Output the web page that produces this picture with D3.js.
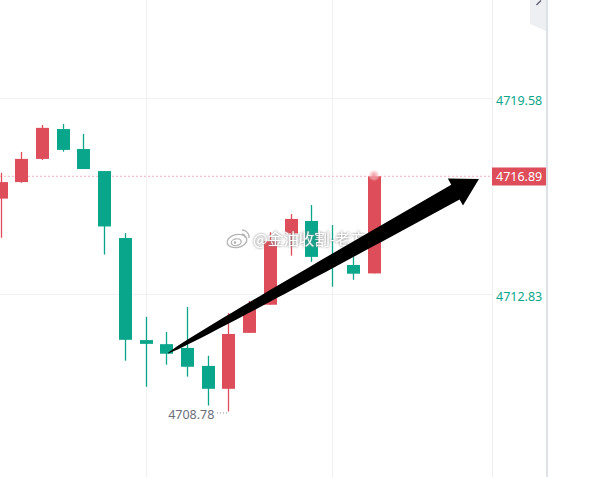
<!DOCTYPE html>
<html>
<head>
<meta charset="utf-8">
<script src="https://cdn.jsdelivr.net/npm/d3@7/dist/d3.min.js"></script>
<style>
  html, body { margin: 0; padding: 0; background: #ffffff; }
  svg { display: block; }
</style>
</head>
<body>
<div id="chart"></div>
<script>
// ---- data ----
const opens  = [4716.12, 4716.69, 4717.49, 4718.52, 4717.83, 4717.07, 4714.76, 4711.24, 4711.10, 4710.97, 4710.35, 4709.56, 4711.49, 4712.46, 4714.92, 4715.35, 4714.04, 4713.83, 4713.54];
const highs  = [4717.01, 4717.73, 4718.66, 4718.69, 4718.35, 4717.07, 4714.93, 4712.04, 4711.52, 4712.38, 4710.70, 4712.17, 4712.59, 4714.96, 4715.59, 4715.90, 4715.21, 4714.11, 4716.89];
const lows   = [4714.77, 4716.67, 4717.45, 4717.74, 4717.14, 4714.19, 4710.53, 4709.63, 4710.39, 4709.98, 4708.98, 4708.78, 4711.49, 4712.46, 4714.15, 4713.94, 4713.08, 4713.32, 4713.54];
const closes = [4716.69, 4717.49, 4718.56, 4717.80, 4717.14, 4715.16, 4711.25, 4711.11, 4710.77, 4710.32, 4709.56, 4711.45, 4712.35, 4714.65, 4715.42, 4714.11, 4713.86, 4713.53, 4716.89];
const priceTicks = ["4719.58", "4712.83"];
const timeGridIdx = [7, 16];
const lastPrice = "4716.89";
const lowLabel = "4708.78";
const lowIndex = 11;
const arrowStart = { i: 8.08, v: 4710.79 };
const arrowEnd   = { i: 23.09, v: 4716.80 };
const watermark = "@金油收割-老方";

const candles = opens.map((o, k) => ({ i: k, o, h: highs[k], l: lows[k], c: closes[k] }));

// ---- layout ----
const W = 593, H = 477;
const plotRight = 492;
const UP = "#dd4d5a", DOWN = "#0aa68c";

const x = d3.scaleLinear().domain([0, 18]).range([0.5, 373.5]);
const y = d3.scaleLinear().domain([4712.83, 4719.58]).range([294, 98.3]);

const svg = d3.select("#chart").append("svg").attr("width", W).attr("height", H);

const defs = svg.append("defs");
const rg = defs.append("radialGradient").attr("id", "glow");
rg.append("stop").attr("offset", "0%").attr("stop-color", "#f08a95").attr("stop-opacity", 0.9);
rg.append("stop").attr("offset", "60%").attr("stop-color", "#f5b7be").attr("stop-opacity", 0.6);
rg.append("stop").attr("offset", "100%").attr("stop-color", "#fbe1e4").attr("stop-opacity", 0);
const cp = defs.append("clipPath").attr("id", "plotclip");
cp.append("rect").attr("x", 0).attr("y", 0).attr("width", plotRight).attr("height", H);
const blur = defs.append("filter").attr("id", "wmglow").attr("x", "-10%").attr("y", "-30%").attr("width", "120%").attr("height", "160%");
blur.append("feGaussianBlur").attr("in", "SourceAlpha").attr("stdDeviation", 1.1).attr("result", "b");
blur.append("feFlood").attr("flood-color", "#8c8c8c").attr("flood-opacity", 0.75);
blur.append("feComposite").attr("in2", "b").attr("operator", "in").attr("result", "s");
const fm = blur.append("feMerge");
fm.append("feMergeNode").attr("in", "s");
fm.append("feMergeNode").attr("in", "s");
fm.append("feMergeNode").attr("in", "SourceGraphic");

// ---- grid ----
const grid = svg.append("g");
grid.selectAll("line.h").data(priceTicks).join("line")
  .attr("x1", 0).attr("x2", plotRight)
  .attr("y1", d => Math.round(y(+d)) + 0.5).attr("y2", d => Math.round(y(+d)) + 0.5)
  .attr("stroke", "#eff1f4").attr("stroke-width", 1);
grid.selectAll("line.v").data(timeGridIdx).join("line")
  .attr("x1", d => Math.round(x(d)) + 0.5).attr("x2", d => Math.round(x(d)) + 0.5)
  .attr("y1", 0).attr("y2", H)
  .attr("stroke", "#f0f1f4").attr("stroke-width", 1.2);

// last price dotted line
svg.append("line")
  .attr("x1", 0).attr("x2", plotRight)
  .attr("y1", y(+lastPrice)).attr("y2", y(+lastPrice))
  .attr("stroke", "#f4b3ba").attr("stroke-width", 1).attr("stroke-dasharray", "2,2");

// ---- candles ----
const cg = svg.append("g").attr("clip-path", "url(#plotclip)");
const bw = 13;
cg.selectAll("line.wick").data(candles).join("line")
  .attr("x1", d => Math.round(x(d.i)) + 0.5).attr("x2", d => Math.round(x(d.i)) + 0.5)
  .attr("y1", d => y(d.h)).attr("y2", d => y(d.l))
  .attr("stroke", d => d.c >= d.o ? UP : DOWN).attr("stroke-width", 1.3);
cg.selectAll("rect.body").data(candles).join("rect")
  .attr("x", d => Math.round(x(d.i)) - 6)
  .attr("width", bw)
  .attr("y", d => y(Math.max(d.o, d.c)))
  .attr("height", d => Math.max(1.5, Math.abs(y(d.o) - y(d.c))))
  .attr("fill", d => d.c >= d.o ? UP : DOWN);

// glow on last candle
const last = candles[candles.length - 1];
svg.append("circle")
  .attr("cx", x(last.i) + 0.5).attr("cy", y(last.c) - 1)
  .attr("r", 6).attr("fill", "url(#glow)");

// low label
svg.append("text")
  .attr("x", x(lowIndex) - 14).attr("y", y(+lowLabel) + 8)
  .attr("text-anchor", "end")
  .attr("font-family", "'Noto Sans', 'Open Sans', sans-serif")
  .attr("font-size", 12.5).attr("fill", "#6c6f7a")
  .text(lowLabel);
svg.append("line")
  .attr("x1", x(lowIndex) - 11.5).attr("x2", x(lowIndex) - 0.5)
  .attr("y1", y(+lowLabel) + 1.5).attr("y2", y(+lowLabel) + 1.5)
  .attr("stroke", "#8a8e99").attr("stroke-width", 1).attr("stroke-dasharray", "1,2");

// ---- watermark ----
const wm = svg.append("g").attr("opacity", 0.95);
const lx = 237, ly = 241;
const logo = wm.append("g").attr("fill", "#ffffff").attr("stroke", "#b0b0b0").attr("stroke-width", 1.3);
logo.append("ellipse").attr("cx", lx).attr("cy", ly).attr("rx", 10).attr("ry", 6.5).attr("transform", `rotate(-12 ${lx} ${ly})`);
logo.append("ellipse").attr("cx", lx - 1).attr("cy", ly + 1).attr("rx", 5).attr("ry", 3.3).attr("transform", `rotate(-12 ${lx} ${ly})`);
logo.append("circle").attr("cx", lx - 2).attr("cy", ly + 1.5).attr("r", 1.2).attr("fill", "#a9a9a9").attr("stroke", "none");
logo.append("path").attr("fill", "none").attr("d", `M${lx + 5},${ly - 11} A7,7 0 0 1 ${lx + 12},${ly - 3}`);
logo.append("path").attr("fill", "none").attr("d", `M${lx + 5},${ly - 7} A3.5,3.5 0 0 1 ${lx + 8},${ly - 3.5}`);
wm.append("text")
  .attr("x", 253).attr("y", 245)
  .attr("font-family", "'Noto Sans CJK SC', sans-serif")
  .attr("font-size", 15.5)
  .attr("fill", "#ffffff")
  .attr("filter", "url(#wmglow)")
  .text(watermark);

// ---- arrow annotation ----
(function drawArrow() {
  const x0 = x(arrowStart.i), y0 = y(arrowStart.v);
  const x1 = x(arrowEnd.i), y1 = y(arrowEnd.v);
  const dx = x1 - x0, dy = y1 - y0;
  const L = Math.hypot(dx, dy);
  const ux = dx / L, uy = dy / L;
  const nx = -uy, ny = ux;
  const headLen = 27, headHalf = 15.5, shaftMax = 17;
  const baseLen = L - headLen;
  const pt = (s, w) => [x0 + ux * s + nx * w, y0 + uy * s + ny * w];
  const upper = [], lower = [];
  const N = 30;
  for (let k = 0; k <= N; k++) {
    const t = k / N;
    const w = Math.max(0.6, shaftMax * Math.sqrt(t)) / 2;
    upper.push(pt(baseLen * t, w));
    lower.push(pt(baseLen * t, -w));
  }
  const pts = [...upper, pt(baseLen, headHalf), pt(L, 0), pt(baseLen, -headHalf), ...lower.reverse()];
  svg.append("path")
    .attr("d", d3.line()(pts) + "Z")
    .attr("fill", "#000000");
})();

// ---- right price axis ----
svg.append("line")
  .attr("x1", plotRight + 0.5).attr("x2", plotRight + 0.5).attr("y1", 0).attr("y2", H)
  .attr("stroke", "#eceef2").attr("stroke-width", 1);
svg.append("rect").attr("x", 546).attr("y", 0).attr("width", 2).attr("height", H).attr("fill", "#dde1e8");

const ax = svg.append("g");
ax.selectAll("text.tick").data(priceTicks).join("text")
  .attr("x", 496).attr("y", d => y(+d) + 6.5)
  .attr("font-family", "'Noto Sans', 'Open Sans', sans-serif")
  .attr("font-size", 12.5).attr("fill", "#0aa68c")
  .text(d => d);

ax.append("rect")
  .attr("x", plotRight).attr("y", y(+lastPrice) - 8.8)
  .attr("width", 54).attr("height", 18)
  .attr("fill", UP);
ax.append("text")
  .attr("x", 496).attr("y", y(+lastPrice) + 4.8)
  .attr("font-family", "'Noto Sans', 'Open Sans', sans-serif")
  .attr("font-size", 12.5).attr("fill", "#ffffff")
  .text(lastPrice);

// top-right tab
svg.append("path")
  .attr("d", "M530,0 L546,0 L546,31 L530,24 Z")
  .attr("fill", "#eeeff3");
svg.append("path")
  .attr("d", "M536.5,5 L541,0.5")
  .attr("stroke", "#5d6270").attr("stroke-width", 1.4).attr("fill", "none");
</script>
</body>
</html>
